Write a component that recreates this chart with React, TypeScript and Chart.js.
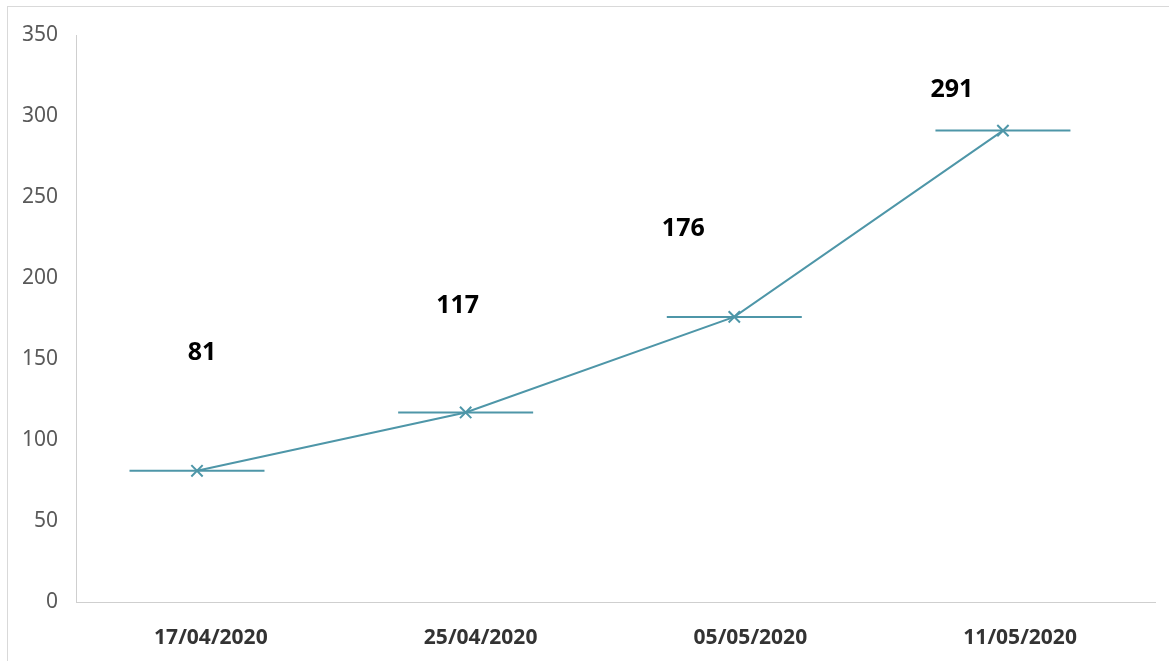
import React, { useEffect, useRef } from "react";
import { Chart, registerables } from "chart.js";

Chart.register(...registerables);

const categories = ["17/04/2020", "25/04/2020", "05/05/2020", "11/05/2020"];
const values = [81, 117, 176, 291];
const yTicks = [0, 50, 100, 150, 200, 250, 300, 350];

// label placement (pixels relative to each point), layout only
const labelDx = [5, -8, -51, -51];
const labelDy = [-118, -107, -88, -41];

const LINE_COLOR = "#4e96a8";
const FONT = "'Noto Sans', 'Open Sans', sans-serif";

const dataLabelPlugin = {
  id: "dataLabelPlugin",
  afterDatasetsDraw(chart: any) {
    const meta = chart.getDatasetMeta(0);
    const ctx = chart.ctx;
    ctx.save();
    ctx.font = `bold 25px ${FONT}`;
    ctx.fillStyle = "#000000";
    ctx.textAlign = "center";
    ctx.textBaseline = "middle";
    meta.data.forEach((pt: any, i: number) => {
      ctx.fillText(String(values[i]), pt.x + labelDx[i], pt.y + labelDy[i]);
    });
    ctx.restore();
  },
};

export default function App() {
  const ref = useRef<HTMLCanvasElement | null>(null);

  useEffect(() => {
    document.body.style.margin = "0";
    if (!ref.current) return;
    const pts = values.map((v, i) => ({ x: i, y: v }));
    const chart = new Chart(ref.current, {
      type: "line",
      data: {
        labels: categories,
        datasets: [
          {
            data: pts,
            xAxisID: "xData",
            borderColor: LINE_COLOR,
            borderWidth: 2,
            pointStyle: "crossRot",
            pointRadius: 8,
            pointBorderWidth: 2,
            pointBorderColor: LINE_COLOR,
            pointBackgroundColor: LINE_COLOR,
            fill: false,
            tension: 0,
            clip: false,
          },
          {
            data: pts,
            xAxisID: "xData",
            showLine: false,
            pointStyle: "line",
            pointRadius: 67.5,
            pointBorderWidth: 2,
            pointBorderColor: LINE_COLOR,
            borderColor: LINE_COLOR,
            clip: false,
          },
        ],
      },
      options: {
        animation: false,
        responsive: true,
        maintainAspectRatio: false,
        layout: { autoPadding: false, padding: { left: 0, top: 35, right: 14, bottom: 0 } },
        plugins: {
          legend: { display: false },
          tooltip: { enabled: false },
        },
        scales: {
          x: {
            type: "category",
            offset: true,
            grid: { display: false, drawTicks: false },
            border: { display: true, color: "#cfcfcf", dash: [2, 2], width: 1 },
            ticks: {
              color: "#333333",
              font: { family: FONT, size: 21, weight: "bold" },
              padding: 23,
              maxRotation: 0,
            },
            afterFit(scale: any) {
              scale.height = 59;
            },
          },
          xData: {
            type: "linear",
            display: false,
            min: -0.4504,
            max: 3.566,
          },
          y: {
            min: 0,
            max: 350,
            afterBuildTicks(scale: any) {
              scale.ticks = yTicks.map((v) => ({ value: v }));
            },
            grid: { display: false, drawTicks: false },
            border: { display: true, color: "#cfcfcf", dash: [2, 2], width: 1 },
            ticks: {
              color: "#595959",
              font: { family: FONT, size: 21 },
              padding: 18,
            },
            afterFit(scale: any) {
              scale.width = 76;
            },
          },
        },
      },
      plugins: [dataLabelPlugin],
    } as any);
    return () => chart.destroy();
  }, []);

  return (
    <div style={{ position: "relative", width: 1169, height: 661, background: "#fff" }}>
      <canvas ref={ref} />
      <div
        style={{
          position: "absolute",
          top: 6,
          left: 7,
          right: 0,
          bottom: 0,
          borderTop: "1px solid #d9d9d9",
          borderLeft: "1px solid #d9d9d9",
          pointerEvents: "none",
        }}
      />
    </div>
  );
}
